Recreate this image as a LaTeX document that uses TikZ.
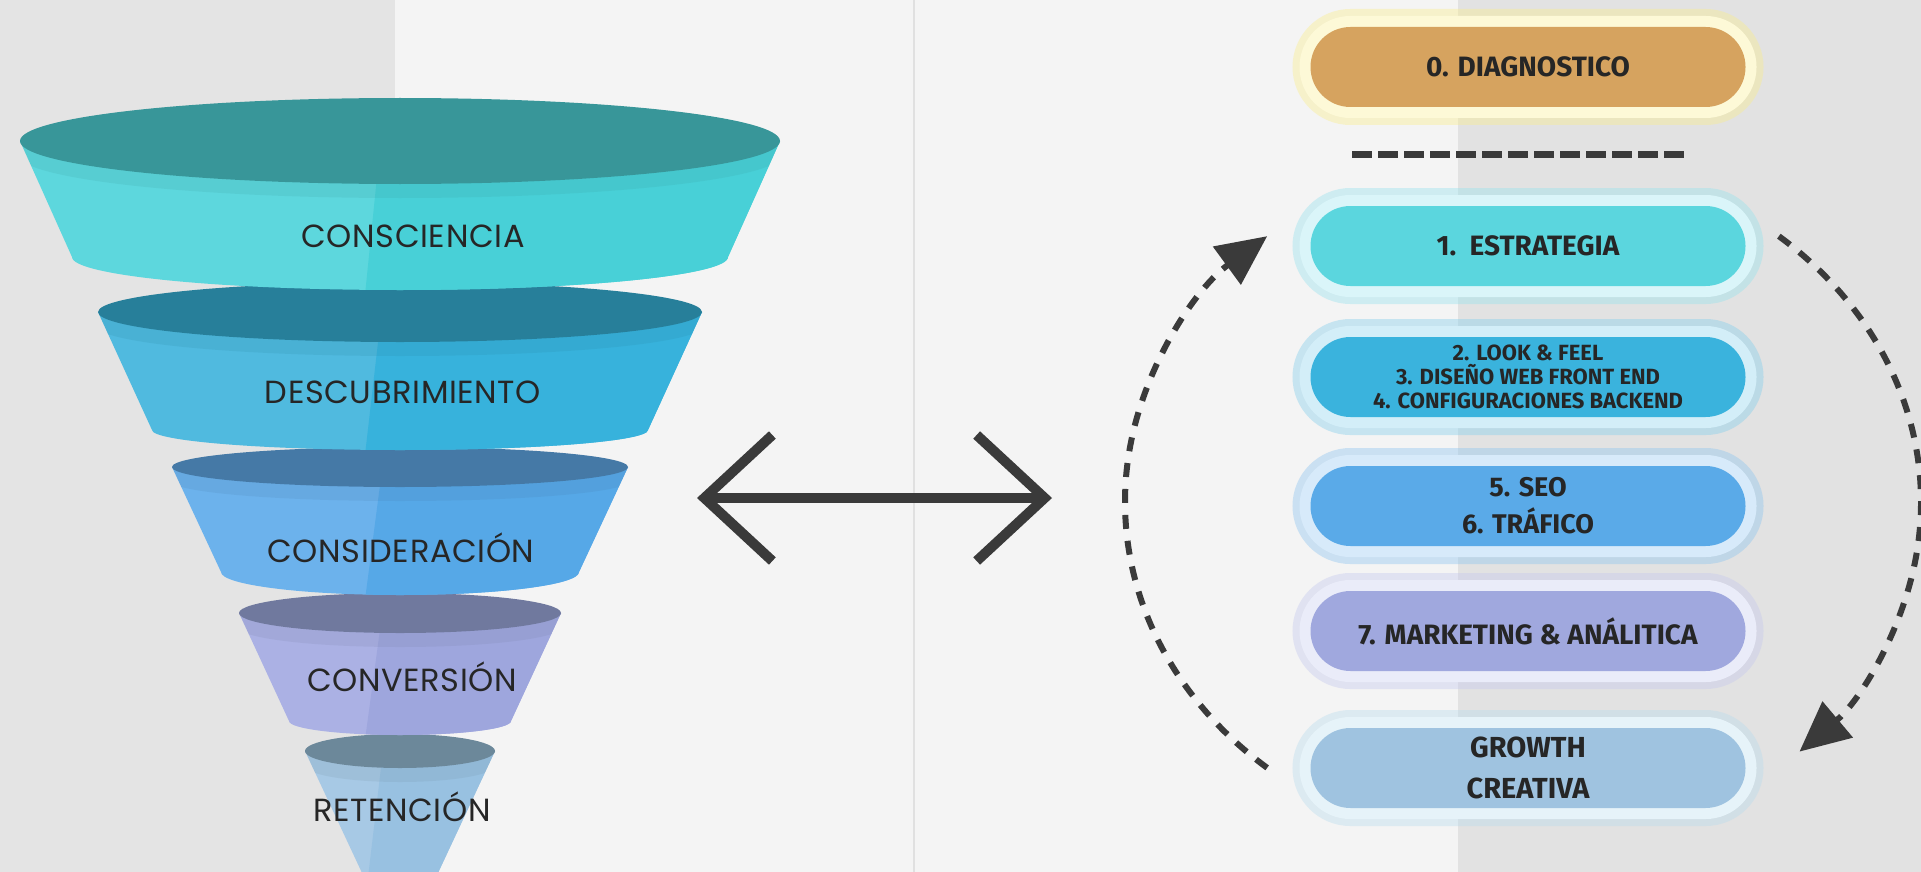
\documentclass[tikz,border=0pt]{standalone}
\usepackage{fontspec}
\newfontfamily\funnelfont[LetterSpace=2]{Poppins}
\newfontfamily\pillfont{Fira Sans}
\usepackage{tikz}
\usetikzlibrary{arrows.meta,positioning}
\usepackage{xcolor}
\definecolor{bgleft}{RGB}{228,228,228}
\definecolor{bgmid}{RGB}{244,244,244}
\definecolor{bgright}{RGB}{226,226,226}
\definecolor{bgline}{RGB}{224,224,224}
\definecolor{inkgray}{RGB}{58,58,58}
\definecolor{labelgray}{RGB}{38,38,38}
% funnel colours
\definecolor{fOneTop}{RGB}{56,150,153}
\definecolor{fOneL}{RGB}{93,215,221}
\definecolor{fOneR}{RGB}{72,208,215}
\definecolor{fTwoTop}{RGB}{39,127,154}
\definecolor{fTwoL}{RGB}{80,186,223}
\definecolor{fTwoR}{RGB}{55,178,220}
\definecolor{fThreeTop}{RGB}{69,121,166}
\definecolor{fThreeL}{RGB}{108,178,236}
\definecolor{fThreeR}{RGB}{86,168,231}
\definecolor{fFourTop}{RGB}{112,121,158}
\definecolor{fFourL}{RGB}{171,177,228}
\definecolor{fFourR}{RGB}{158,166,221}
\definecolor{fFiveTop}{RGB}{108,136,154}
\definecolor{fFiveL}{RGB}{167,201,229}
\definecolor{fFiveR}{RGB}{152,193,225}
% phase colours
\definecolor{diagfill}{RGB}{214,163,95}
\definecolor{diagglow}{RGB}{250,238,140}
\definecolor{estratfill}{RGB}{91,214,222}
\definecolor{estratglow}{RGB}{150,226,238}
\definecolor{lookfill}{RGB}{58,179,221}
\definecolor{lookglow}{RGB}{130,206,236}
\definecolor{seofill}{RGB}{90,170,232}
\definecolor{seoglow}{RGB}{140,196,240}
\definecolor{mktfill}{RGB}{160,168,222}
\definecolor{mktglow}{RGB}{196,200,238}
\definecolor{growthfill}{RGB}{159,195,224}
\definecolor{growthglow}{RGB}{184,220,238}
\tikzstyle{stagelabel} = [text=labelgray, font=\funnelfont\fontsize{32}{38}\selectfont, inner sep=0pt]
\tikzstyle{pill} = [rectangle, rounded corners=40pt, minimum width=435pt, minimum height=80pt, inner sep=2pt, text centered, align=center, text=labelgray, font=\pillfont\bfseries\fontsize{28}{33}\selectfont]
\tikzstyle{twoway} = [line width=10pt, draw=inkgray, {Straight Barb[length=68pt,width=126pt]}-{Straight Barb[length=68pt,width=126pt]}]
\tikzstyle{separator} = [line width=7pt, draw=inkgray, dash pattern=on 20pt off 6pt]
\tikzstyle{cyclearrow} = [line width=6pt, draw=inkgray, dash pattern=on 14pt off 12pt, -{Triangle[length=50pt,width=46pt]}]
\tikzset{glow/.style={preaction={draw=#1, line width=36pt, opacity=.4}, preaction={draw=white!65!#1, line width=22pt}}}
% one band of the funnel: top y, top rx, top ry, bottom y, bottom rx, bottom ry, rim, left, right
\newcommand{\funnelband}[9]{%
  \begin{scope}
    \clip (400-#2,#1) -- (400-#5,#4) arc[start angle=180, end angle=0, x radius=#5, y radius=#6] -- (400+#2,#1) -- cycle;
    \fill[#8] (0,#1-#3) rectangle (900,#4+#6+5);
    \fill[#9] (385,#1-#3) -- (365,#4+#6+5) -- (900,#4+#6+5) -- (900,#1-#3) -- cycle;
    \draw[#7, opacity=.15, line width=14pt] (400,#1+7) ellipse[x radius=#2, y radius=#3];
  \end{scope}
  \fill[#7] (400,#1) ellipse[x radius=#2, y radius=#3];
}

\begin{document}
\begin{tikzpicture}[x=1pt, y=-1pt]
    % Canvas
    \useasboundingbox (0,0) rectangle (1921,872);
    \clip (0,0) rectangle (1921,872);
    \fill[bgmid] (0,0) rectangle (1921,872);
    \fill[bgleft] (0,0) rectangle (395,872);
    \fill[bgright] (1458,0) rectangle (1921,872);
    \draw[bgline, line width=1.5pt] (914,0) -- (914,872);

    % Funnel, narrow end first
    \funnelband{751}{95}{17}{890}{30}{8}{fFiveTop}{fFiveL}{fFiveR}
    \funnelband{613}{161}{20}{721}{111}{14}{fFourTop}{fFourL}{fFourR}
    \funnelband{467}{228}{20}{572}{179}{23}{fThreeTop}{fThreeL}{fThreeR}
    \funnelband{312}{302}{30}{430}{248}{20}{fTwoTop}{fTwoL}{fTwoR}
    \funnelband{141}{380}{43}{257}{328}{33}{fOneTop}{fOneL}{fOneR}

    % Funnel labels
    \node[stagelabel] (consciencia) at (413,236) {CONSCIENCIA};
    \node[stagelabel] (descubrimiento) at (403,392) {DESCUBRIMIENTO};
    \node[stagelabel] (consideracion) at (401,548) {CONSIDERACIÓN};
    \node[stagelabel] (conversion) at (412,677) {CONVERSIÓN};
    \node[stagelabel] (retencion) at (402,807) {RETENCIÓN};

    % Two-way arrow
    \coordinate (arrowleft) at (697,498);
    \coordinate (arrowright) at (1052,498);
    \draw[twoway] (arrowleft) -- (arrowright);

    % Phases
    \node[pill, fill=diagfill, glow=diagglow] (diag) at (1528,67) {0. DIAGNOSTICO};
    \coordinate (sepleft) at (1352,154);
    \coordinate (sepright) at (1685,154);
    \draw[separator] (sepleft) -- (sepright);
    \node[pill, fill=estratfill, glow=estratglow] (estrategia) at (1528,246) {1.\ \ ESTRATEGIA};
    \node[pill, fill=lookfill, glow=lookglow, font=\pillfont\bfseries\fontsize{22}{24}\selectfont] (look) at (1528,377) {2. LOOK \& FEEL\\3. DISEÑO WEB FRONT END\\4. CONFIGURACIONES BACKEND};
    \node[pill, fill=seofill, glow=seoglow, font=\pillfont\bfseries\fontsize{27}{37}\selectfont] (seo) at (1528,506) {5. SEO\\6. TRÁFICO};
    \node[pill, fill=mktfill, glow=mktglow] (marketing) at (1528,631) {7. MARKETING \& ANÁLITICA};
    \node[pill, fill=growthfill, glow=growthglow, font=\pillfont\bfseries\fontsize{29}{41}\selectfont] (growth) at (1528,768) {GROWTH\\CREATIVA};

    % Cycle
    \coordinate (loopcenter) at (1523,502);
    \draw[cyclearrow] ([shift={(130:398 and 347)}]loopcenter) arc[start angle=130, end angle=230, x radius=398, y radius=347];
    \draw[cyclearrow] ([shift={(-50:398 and 347)}]loopcenter) arc[start angle=-50, end angle=46, x radius=398, y radius=347];
\end{tikzpicture}
\end{document}
